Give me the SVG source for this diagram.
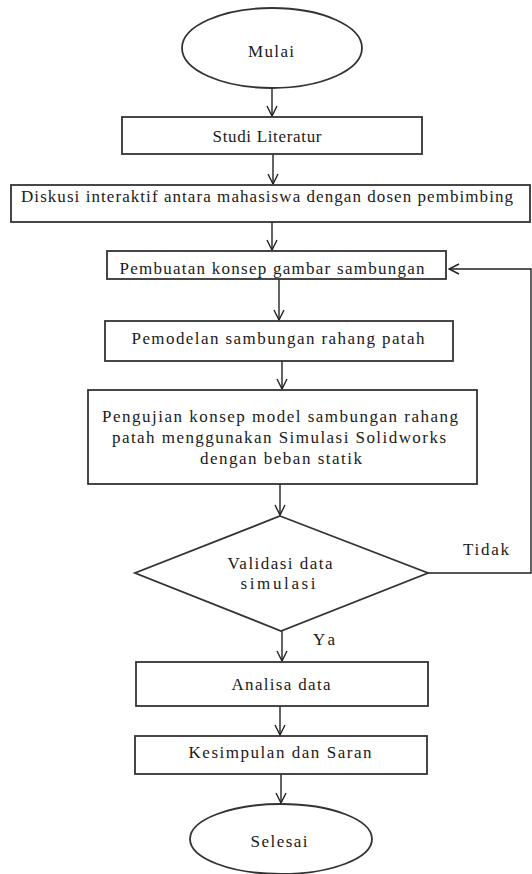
<svg xmlns="http://www.w3.org/2000/svg" width="532" height="874" viewBox="0 0 532 874">
<defs>
<marker id="arr" viewBox="0 0 12 12" refX="11" refY="6" markerWidth="12" markerHeight="12" markerUnits="userSpaceOnUse" orient="auto">
<path d="M1,1 L11,6 L1,11" fill="none" stroke="#222" stroke-width="1.4"/>
</marker>
<style>
.s{fill:#fff;stroke:#333;stroke-width:1.8}
.t{font-family:"Liberation Serif",serif;font-size:17px;fill:#1a1a1a;text-anchor:middle}
.c{fill:none;stroke:#222;stroke-width:1.4}
</style>
</defs>
<rect width="532" height="874" fill="#fff"/>
<g id="connectors">
<line class="c" x1="272" y1="88" x2="272" y2="116" marker-end="url(#arr)"/>
<line class="c" x1="273" y1="154" x2="273" y2="184" marker-end="url(#arr)"/>
<line class="c" x1="272" y1="222" x2="272" y2="250" marker-end="url(#arr)"/>
<line class="c" x1="279" y1="279" x2="279" y2="320" marker-end="url(#arr)"/>
<line class="c" x1="282" y1="361" x2="282" y2="389" marker-end="url(#arr)"/>
<line class="c" x1="280" y1="484" x2="280" y2="515" marker-end="url(#arr)"/>
<line class="c" x1="282" y1="631" x2="282" y2="661" marker-end="url(#arr)"/>
<line class="c" x1="280" y1="706" x2="280" y2="735" marker-end="url(#arr)"/>
<line class="c" x1="281" y1="774" x2="281" y2="803" marker-end="url(#arr)"/>
<polyline class="c" points="428,573 531,573 531,269 449,269" marker-end="url(#arr)"/>
<text class="t" x="486" y="555" textLength="46" lengthAdjust="spacing">Tidak</text>
<text class="t" x="324" y="645" textLength="22" lengthAdjust="spacing">Ya</text>
</g>
<g id="mulai">
<ellipse class="s" cx="272" cy="48" rx="90" ry="40"/>
<text class="t" x="271" y="57" textLength="46" lengthAdjust="spacing">Mulai</text>
</g>
<g id="studi">
<rect class="s" x="122" y="117" width="300" height="37"/>
<text class="t" x="267" y="142" textLength="109" lengthAdjust="spacing">Studi Literatur</text>
</g>
<g id="diskusi">
<rect class="s" x="11" y="185" width="519" height="37"/>
<text class="t" x="267" y="202" textLength="492" lengthAdjust="spacing">Diskusi interaktif antara mahasiswa dengan dosen pembimbing</text>
</g>
<g id="pembuatan">
<rect class="s" x="107" y="251" width="339" height="28"/>
<text class="t" x="272" y="274" textLength="305" lengthAdjust="spacing">Pembuatan konsep gambar sambungan</text>
</g>
<g id="pemodelan">
<rect class="s" x="105" y="321" width="348" height="40"/>
<text class="t" x="278" y="344" textLength="293" lengthAdjust="spacing">Pemodelan sambungan rahang patah</text>
</g>
<g id="pengujian">
<rect class="s" x="88" y="390" width="389" height="94"/>
<text class="t" x="280" y="422" textLength="356" lengthAdjust="spacing">Pengujian konsep model sambungan rahang</text>
<text class="t" x="279" y="443" textLength="334" lengthAdjust="spacing">patah menggunakan Simulasi Solidworks</text>
<text class="t" x="281" y="464" textLength="162" lengthAdjust="spacing">dengan beban statik</text>
</g>
<g id="validasi">
<polygon class="s" points="280,516 428,573 281,631 135,573"/>
<text class="t" x="280" y="569" textLength="105" lengthAdjust="spacing">Validasi data</text>
<text class="t" x="278" y="589" textLength="75" lengthAdjust="spacing">simulasi</text>
</g>
<g id="analisa">
<rect class="s" x="136" y="662" width="292" height="44"/>
<text class="t" x="281" y="690" textLength="99" lengthAdjust="spacing">Analisa data</text>
</g>
<g id="kesimpulan">
<rect class="s" x="135" y="736" width="292" height="38"/>
<text class="t" x="280" y="758" textLength="183" lengthAdjust="spacing">Kesimpulan dan Saran</text>
</g>
<g id="selesai">
<ellipse class="s" cx="281" cy="839" rx="91" ry="35"/>
<text class="t" x="279" y="847" textLength="57" lengthAdjust="spacing">Selesai</text>
</g>
</svg>
